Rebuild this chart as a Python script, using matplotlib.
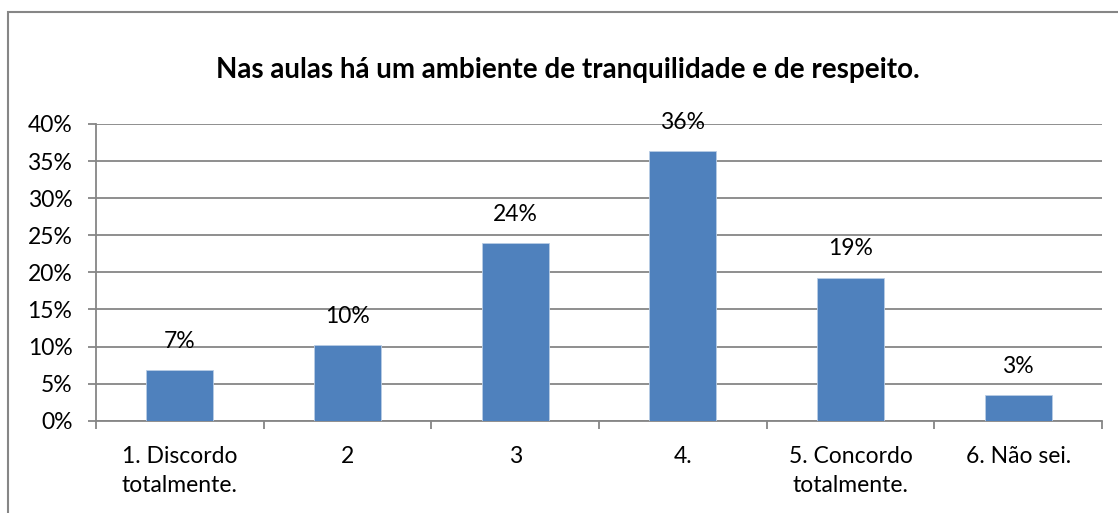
import matplotlib.pyplot as plt
import matplotlib.patches as mpatches
from matplotlib.ticker import FuncFormatter, FixedLocator

plt.rcParams['font.family'] = ['Lato', 'DejaVu Sans']

categories = ['1. Discordo\ntotalmente.', '2', '3', '4.', '5. Concordo\ntotalmente.', '6. Não sei.']
values = [6.8, 10.2, 23.9, 36.3, 19.3, 3.5]
value_labels = ['7%', '10%', '24%', '36%', '19%', '3%']
title = 'Nas aulas há um ambiente de tranquilidade e de respeito.'

gray = '#868686'

fig = plt.figure(figsize=(11.18, 5.13), dpi=100)
ax = fig.add_axes([96 / 1118, 1 - 420.7 / 513, 1006 / 1118, 296.7 / 513])

x = list(range(len(categories)))
bars = ax.bar(x, values, width=0.4, color='#4F81BD', edgecolor='#B9CDE5', linewidth=0.6, zorder=3)

for xi, v, lab in zip(x, values, value_labels):
    ax.annotate(lab, (xi, v), xytext=(0, 13), textcoords='offset points',
                ha='center', va='bottom', fontsize=16.5, color='black')

ax.set_xlim(-0.5, len(categories) - 0.5)
ax.set_ylim(0, 40)
ax.set_yticks(range(0, 41, 5))
ax.yaxis.set_major_formatter(FuncFormatter(lambda v, p: f'{int(v)}%'))
ax.grid(axis='y', color=gray, linewidth=1.3, zorder=0)

ax.set_xticks(x)
ax.set_xticklabels(categories, fontsize=16.5, linespacing=1.5)
ax.xaxis.set_minor_locator(FixedLocator([i - 0.5 for i in range(len(categories) + 1)]))
ax.tick_params(axis='x', which='major', length=0, pad=18)
ax.tick_params(axis='x', which='minor', length=6, width=1.3, color=gray)
ax.tick_params(axis='y', length=6, width=1.3, color=gray, labelsize=16.5, pad=11)

for s in ['top', 'right']:
    ax.spines[s].set_visible(False)
for s in ['left', 'bottom']:
    ax.spines[s].set_color(gray)
    ax.spines[s].set_linewidth(1.3)

fig.text(568 / 1118, 1 - 70 / 513, title, ha='center', va='center',
         fontsize=20, fontweight='bold')

border = mpatches.Rectangle((7.5 / 1118, -0.1), 1.2, 1 - 12 / 513 + 0.1,
                            transform=fig.transFigure, fill=False,
                            edgecolor=gray, linewidth=1.5, clip_on=False)
fig.patches.append(border)

fig.savefig('out.png', dpi=100)
